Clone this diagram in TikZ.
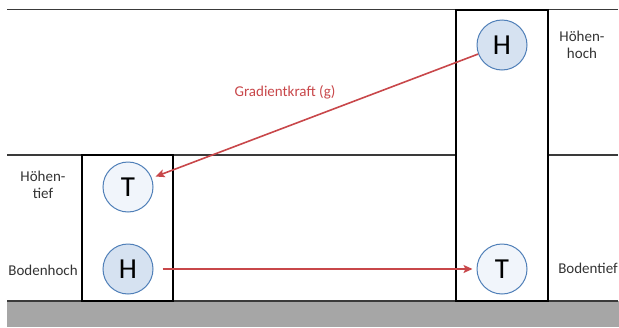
\documentclass[tikz,border=0pt]{standalone}
\usepackage{fontspec}
\setmainfont{Carlito}
\usetikzlibrary{arrows.meta}
\definecolor{hfill}{HTML}{D6E2F1}
\definecolor{tfill}{HTML}{F1F5FB}
\definecolor{cborder}{HTML}{4F7FB8}
\definecolor{redarrow}{HTML}{C8474A}
\definecolor{ground}{HTML}{A6A6A6}
\definecolor{levelline}{HTML}{3A3A3A}
\tikzset{
  level/.style={draw=levelline, line width=1.4pt},
  column/.style={draw=black, line width=2.8pt},
  hcirc/.style={circle, draw=cborder, line width=1pt, fill=hfill, minimum size=50pt, inner sep=0pt, font=\fontsize{29}{29}\selectfont},
  tcirc/.style={circle, draw=cborder, line width=1pt, fill=tfill, minimum size=50pt, inner sep=0pt, font=\fontsize{29}{29}\selectfont},
  lbl/.style={font=\fontsize{15}{17}\selectfont, text=black!80, align=center},
  force/.style={draw=redarrow, line width=1.6pt, -{Stealth[length=9pt,width=8pt,inset=2pt]}},
}
\begin{document}
\begin{tikzpicture}[x=1pt,y=-1pt]
\useasboundingbox (0,0) rectangle (619,327);
\fill[ground] (7,301) rectangle (619,327);
\coordinate (l1a) at (7,9.5); \coordinate (l1b) at (618,9.5);
\coordinate (l2a) at (7,155); \coordinate (l2b) at (618,155);
\coordinate (l3a) at (7,301); \coordinate (l3b) at (618,301);
\draw[level] (l1a) -- (l1b);
\draw[level] (l2a) -- (l2b);
\draw[level] (l3a) -- (l3b);
\fill[white] (82,156) rectangle (173,300);
\fill[white] (456,11) rectangle (548,300);
\draw[column] (82,155) rectangle (173,301);
\draw[column] (456,10) rectangle (548,301);
\node[tcirc] (tl) at (128,187) {T};
\node[hcirc] (hl) at (128,269) {H};
\node[hcirc] (hr) at (502,45) {H};
\node[tcirc] (tr) at (502,269) {T};
\draw[force, shorten >=4pt] (hr) -- (tl);
\draw[force, shorten <=9pt, shorten >=4pt] (hl) -- (tr);
\node[lbl, text=redarrow] (g) at (285,92) {Gradientkraft (g)};
\node[lbl] (hh) at (582,45) {Höhen-\\hoch};
\node[lbl] (ht) at (43,185) {Höhen-\\tief};
\node[lbl] (bh) at (43,270) {Bodenhoch};
\node[lbl] (bt) at (588,268) {Bodentief};
\end{tikzpicture}
\end{document}
